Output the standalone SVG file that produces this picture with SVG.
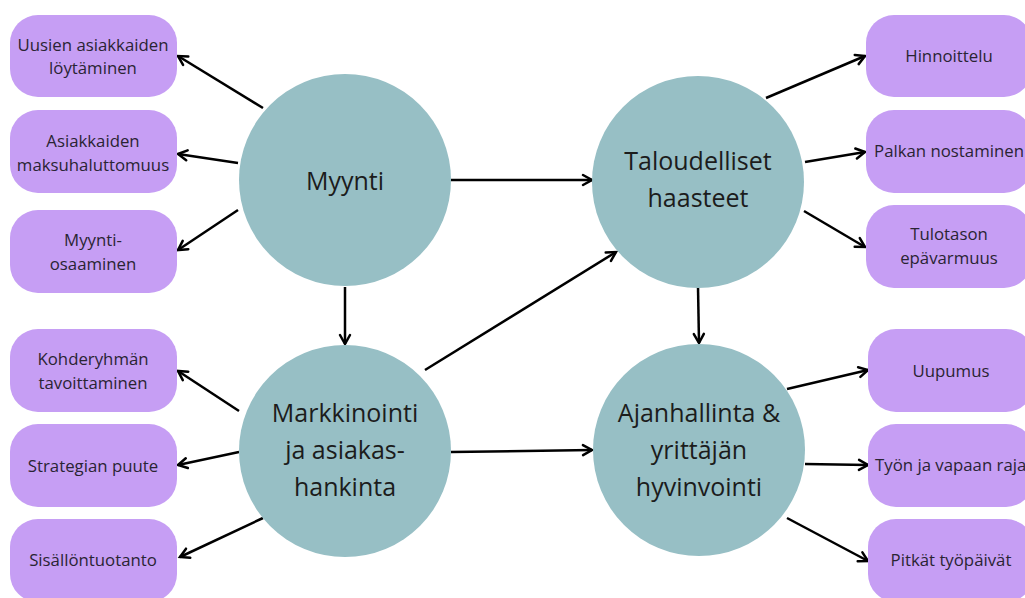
<svg xmlns="http://www.w3.org/2000/svg" width="1025" height="598" viewBox="0 0 1025 598">
<defs>
<marker id="ah" markerUnits="userSpaceOnUse" markerWidth="14" markerHeight="14" viewBox="0 0 14 14" refX="11" refY="7" orient="auto">
<path d="M2,2 L11,7 L2,12" fill="none" stroke="#000" stroke-width="2.5" stroke-linecap="round" stroke-linejoin="miter"/>
</marker>
</defs>
<style>
.circ{fill:#97bfc5}
.box{fill:#c69ef4}
.ct{font-family:"Open Sans","Liberation Sans",sans-serif;font-size:25px;fill:#1c1c1c;text-anchor:middle}
.bt{font-family:"Open Sans","Liberation Sans",sans-serif;font-size:16.8px;fill:#2a2433;text-anchor:middle}
.c{stroke:#000;stroke-width:2.5;fill:none;marker-end:url(#ah)}
</style>
<rect width="1025" height="598" fill="#fff"/>
<g id="connectors">
<line class="c" x1="263" y1="108" x2="178" y2="56"/>
<line class="c" x1="238" y1="163" x2="178" y2="154"/>
<line class="c" x1="238" y1="210" x2="178" y2="250"/>
<line class="c" x1="451" y1="180" x2="592" y2="180"/>
<line class="c" x1="345" y1="287" x2="345" y2="344"/>
<line class="c" x1="425" y1="370" x2="616" y2="252"/>
<line class="c" x1="239" y1="411" x2="178" y2="371"/>
<line class="c" x1="239" y1="452" x2="178" y2="465"/>
<line class="c" x1="263" y1="518" x2="180" y2="557"/>
<line class="c" x1="451" y1="452" x2="592" y2="450"/>
<line class="c" x1="698" y1="287" x2="699" y2="343"/>
<line class="c" x1="766" y1="98" x2="865" y2="56"/>
<line class="c" x1="805" y1="162" x2="865" y2="152"/>
<line class="c" x1="804" y1="211" x2="865" y2="247"/>
<line class="c" x1="787" y1="389" x2="868" y2="370"/>
<line class="c" x1="805" y1="464" x2="868" y2="465"/>
<line class="c" x1="787" y1="518" x2="868" y2="561"/>
</g>
<g id="myynti"><circle class="circ" cx="345" cy="180" r="106"/><text class="ct" x="345" y="190">Myynti</text></g>
<g id="talous"><circle class="circ" cx="698" cy="182" r="106"/><text class="ct" x="698" y="170">Taloudelliset</text><text class="ct" x="698" y="207">haasteet</text></g>
<g id="markkinointi"><circle class="circ" cx="345" cy="451" r="106"/><text class="ct" x="345" y="422">Markkinointi</text><text class="ct" x="345" y="459">ja asiakas-</text><text class="ct" x="345" y="496">hankinta</text></g>
<g id="ajanhallinta"><circle class="circ" cx="699" cy="450" r="106"/><text class="ct" x="699" y="422">Ajanhallinta &amp;</text><text class="ct" x="699" y="459">yrittäjän</text><text class="ct" x="699" y="496">hyvinvointi</text></g>
<g id="b-uusien"><rect class="box" x="10" y="15" width="167" height="82" rx="28"/><text class="bt" x="93" y="51">Uusien asiakkaiden</text><text class="bt" x="93" y="74">löytäminen</text></g>
<g id="b-maksu"><rect class="box" x="10" y="110" width="167" height="83" rx="28"/><text class="bt" x="93" y="147">Asiakkaiden</text><text class="bt" x="93" y="171">maksuhaluttomuus</text></g>
<g id="b-osaaminen"><rect class="box" x="10" y="210" width="167" height="83" rx="28"/><text class="bt" x="93" y="246">Myynti-</text><text class="bt" x="93" y="270">osaaminen</text></g>
<g id="b-kohde"><rect class="box" x="10" y="329" width="167" height="83" rx="28"/><text class="bt" x="93" y="365">Kohderyhmän</text><text class="bt" x="93" y="389">tavoittaminen</text></g>
<g id="b-strategia"><rect class="box" x="10" y="424" width="167" height="83" rx="28"/><text class="bt" x="93" y="472">Strategian puute</text></g>
<g id="b-sisalto"><rect class="box" x="10" y="519" width="167" height="83" rx="28"/><text class="bt" x="93" y="566">Sisällöntuotanto</text></g>
<g id="b-hinnoittelu"><rect class="box" x="866" y="15" width="166" height="82" rx="28"/><text class="bt" x="949" y="62">Hinnoittelu</text></g>
<g id="b-palkka"><rect class="box" x="866" y="110" width="166" height="83" rx="28"/><text class="bt" x="949" y="157">Palkan nostaminen</text></g>
<g id="b-tulotaso"><rect class="box" x="866" y="205" width="166" height="83" rx="28"/><text class="bt" x="949" y="240">Tulotason</text><text class="bt" x="949" y="264">epävarmuus</text></g>
<g id="b-uupumus"><rect class="box" x="868" y="329" width="166" height="83" rx="28"/><text class="bt" x="951" y="377">Uupumus</text></g>
<g id="b-tyon"><rect class="box" x="868" y="424" width="166" height="83" rx="28"/><text class="bt" x="875" y="471" style="text-anchor:start">Työn ja vapaan raja</text></g>
<g id="b-pitkat"><rect class="box" x="868" y="519" width="166" height="83" rx="28"/><text class="bt" x="951" y="566">Pitkät työpäivät</text></g>
</svg>
